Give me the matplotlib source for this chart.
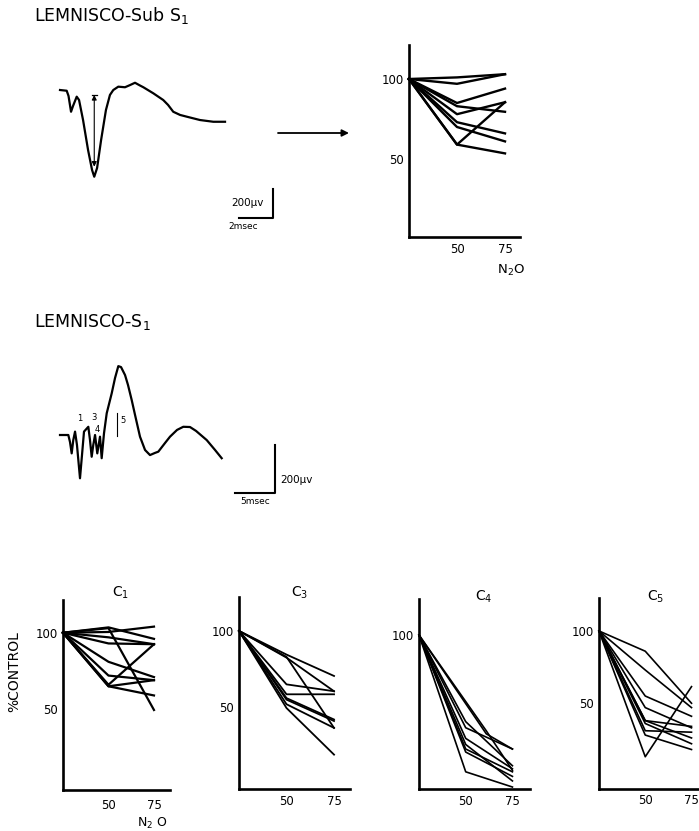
import matplotlib.pyplot as plt

plt.rcParams['font.family'] = ['DejaVu Sans']

W, H = 699, 831  # output size in pixels

# ---- waveforms (time in msec, amplitude in uV) ----
sub_t = [0, 0.40, 0.51, 0.66, 0.78, 1.0, 1.14, 1.38, 1.68, 1.92, 2.05, 2.22,
         2.46, 2.75, 2.99, 3.19, 3.49, 3.89, 4.19, 4.49, 4.79, 4.99, 5.59,
         6.18, 6.47, 6.78, 7.19, 7.59, 8.38, 9.18, 9.88]
sub_v = [0, -5, -41, -150, -110, -46, -69, -207, -414, -552, -598, -538,
         -345, -138, -34, 0, 23, 19, 34, 50, 31, 19, -23,
         -69, -103, -150, -172, -184, -207, -219, -219]

s1_t = [0, 1.04, 1.25, 1.46, 1.66, 1.88, 2.12, 2.5, 2.75, 3.0, 3.54, 3.75,
        3.96, 4.16, 4.38, 4.66, 5.0, 5.21, 5.5, 5.84, 6.46, 6.88, 7.29, 7.63,
        8.13, 8.5, 8.96, 9.38, 10.0, 10.63, 11.25, 11.88, 12.29, 13.13, 13.75,
        14.63, 15.41, 16.25, 17.0, 18.34, 19.38, 20.21]
s1_v = [0, 0, -29, -76, -21, 14, -41, -179, -83, 14, 34, -21,
        -90, -41, 0, -76, -7, -96, 7, 90, 172, 236, 285, 281,
        248, 207, 145, 83, -7, -62, -83, -74, -69, -33, -7,
        21, 34, 33, 17, -21, -62, -96]

s1_wave_labels = ["1", "3", "4", "5"]
s1_wave_label_t = [2.5, 4.25, 4.66, 7.84]
s1_wave_label_v = [70, 72, 24, 62]

# ---- % of control vs N2O (control point sits at the axis origin, x=25) ----
n2o = [25, 50, 75]

sub_s1 = [
    [100, 101, 103],
    [100, 97, 103],
    [100, 85, 94],
    [100, 83, 79.5],
    [100, 78, 85.5],
    [100, 73, 66],
    [100, 70, 61],
    [100, 59, 85.5],
    [100, 59, 53.5],
]

c1 = [
    [100, 103.5, 96],
    [100, 100.5, 104],
    [100, 97, 92.5],
    [100, 93, 92.5],
    [100, 103, 49.5],
    [100, 81, 71],
    [100, 72, 69],
    [100, 66, 92.5],
    [100, 65, 69],
    [100, 65, 59],
]

c3 = [
    [100, 84.5, 70.5],
    [100, 82.5, 60.5],
    [100, 83, 36.5],
    [100, 65, 60.5],
    [100, 58.5, 58.5],
    [100, 56, 42],
    [100, 55, 41],
    [100, 52, 36.5],
    [100, 49.5, 19],
]

c4_x = [
    [25, 61, 75],
    [25, 50, 75],
    [25, 61, 75],
    [25, 50, 75],
    [25, 50, 75],
    [25, 50, 75],
    [25, 50, 75],
    [25, 50, 75],
    [25, 50, 75],
]
c4 = [
    [100, 35, 25],
    [100, 39, 25],
    [100, 37, 11],
    [100, 43, 14],
    [100, 32, 12],
    [100, 25, 10],
    [100, 23, 7],
    [100, 10, 0],
    [100, 28, 4],
]

c5 = [
    [100, 86, 50],
    [100, 73, 47],
    [100, 55, 41],
    [100, 47, 33],
    [100, 38, 34],
    [100, 36, 22],
    [100, 31, 30],
    [100, 28, 18],
    [100, 13, 61.5],
    [100, 38, 26],
]


def px_axes(fig, x0, y0, x1, y1):
    # axes placed by its pixel box (top-left origin)
    ax = fig.add_axes([x0 / W, 1 - y1 / H, (x1 - x0) / W, (y1 - y0) / H])
    ax.patch.set_alpha(0)
    return ax


def fig_text(fig, x, y, s, **kw):
    fig.text(x / W, 1 - y / H, s, **kw)


def draw_panel(ax, xs, lines, xlim, ylim, yticks, lw, xpad):
    for x, y in zip(xs, lines):
        ax.plot(x, y, color='black', lw=lw, clip_on=False)
    ax.set_xlim(xlim)
    ax.set_ylim(ylim)
    for s in ['top', 'right']:
        ax.spines[s].set_visible(False)
    for s in ['left', 'bottom']:
        ax.spines[s].set_linewidth(1.9)
    ax.set_xticks([50, 75])
    ax.set_yticks(yticks)
    ax.set_yticklabels([str(v) for v in yticks])
    ax.tick_params(length=0, labelsize=8.5)
    ax.tick_params(axis='x', pad=xpad)
    ax.tick_params(axis='y', pad=4)


fig = plt.figure(figsize=(W / 100, H / 100), dpi=100)

# ---------- LEMNISCO-Sub S1 ----------
fig_text(fig, 34, 15, "LEMNISCO-Sub S$_1$", fontsize=12.5, va='center')

ax = px_axes(fig, 55, 70, 290, 235)
ax.plot(sub_t, sub_v, color='black', lw=1.6)
ax.plot([1.9, 2.2], [-34, -34], color='black', lw=0.9)
ax.annotate("", xy=(2.05, -529), xytext=(2.05, -34),
            arrowprops=dict(arrowstyle='<|-|>', color='black', lw=0.8,
                            mutation_scale=7, shrinkA=0, shrinkB=0))
# scale bar 200 uV / 2 msec
ax.plot([10.74, 12.74, 12.74], [-885, -885, -685], color='black', lw=1.5)
ax.text(12.17, -777, "200μv", fontsize=7.5, ha='right', va='center')
ax.text(10.96, -938, "2msec", fontsize=6.5, ha='center', va='center')
ax.set_xlim(-0.30, 13.77)
ax.set_ylim(-1000, 138)
ax.axis('off')

ax.annotate("", xy=(349, H - 133), xytext=(278, H - 133),
            xycoords='figure pixels', textcoords='figure pixels',
            arrowprops=dict(arrowstyle='-|>', color='black', lw=1.3,
                            mutation_scale=10, shrinkA=0, shrinkB=0))

ax = px_axes(fig, 409, 45, 520, 237)
draw_panel(ax, [n2o] * len(sub_s1), sub_s1, (25, 82.8), (1.25, 121.25),
           [50, 100], 1.7, 4.5)
fig_text(fig, 511, 270, "N$_2$O", fontsize=9.5, ha='center', va='center')

# ---------- LEMNISCO-S1 ----------
fig_text(fig, 34, 322, "LEMNISCO-S$_1$", fontsize=12.5, va='center')

ax = px_axes(fig, 55, 350, 335, 510)
ax.plot(s1_t, s1_v, color='black', lw=1.6)
ax.plot([7.16, 7.16], [-4, 90], color='black', lw=0.8)
for lab, t, v in zip(s1_wave_labels, s1_wave_label_t, s1_wave_label_v):
    ax.text(t, v, lab, fontsize=6, ha='center', va='center')
# scale bar 200 uV / 5 msec
ax.plot([21.875, 26.875, 26.875], [-241, -241, -41], color='black', lw=1.5)
ax.text(27.5, -186, "200μv", fontsize=7.5, ha='left', va='center')
ax.text(24.4, -276, "5msec", fontsize=6.5, ha='center', va='center')
ax.set_xlim(-0.625, 34.375)
ax.set_ylim(-310.3, 351.7)
ax.axis('off')

# ---------- bottom row: C1, C3, C4, C5 ----------
ax = px_axes(fig, 63, 600, 170, 790)
draw_panel(ax, [n2o] * len(c1), c1, (25, 83.8), (-2.8, 121.4), [50, 100], 1.6, 6.5)
fig_text(fig, 121, 593, "C$_1$", fontsize=10, ha='center', va='center')
fig_text(fig, 14, 672, "%CONTROL", fontsize=10, rotation=90, ha='center', va='center')
fig_text(fig, 152, 823, "N$_2$ O", fontsize=9, ha='center', va='center')

ax = px_axes(fig, 239, 597, 350, 789)
draw_panel(ax, [n2o] * len(c3), c3, (25, 83.4), (-3.5, 122.2), [50, 100], 1.3, 4.5)
fig_text(fig, 300, 593, "C$_3$", fontsize=10, ha='center', va='center')

ax = px_axes(fig, 419, 599, 530, 789)
draw_panel(ax, c4_x, c4, (25, 84.4), (-1.3, 123.7), [100], 1.2, 4.5)
fig_text(fig, 484, 597, "C$_4$", fontsize=10, ha='center', va='center')

ax = px_axes(fig, 599, 598, 699, 789)
draw_panel(ax, [n2o] * len(c5), c5, (25, 79.05), (-9.3, 122.8), [50, 100], 1.2, 3.5)
fig_text(fig, 656, 597, "C$_5$", fontsize=10, ha='center', va='center')

fig.savefig("out.png", dpi=100)
